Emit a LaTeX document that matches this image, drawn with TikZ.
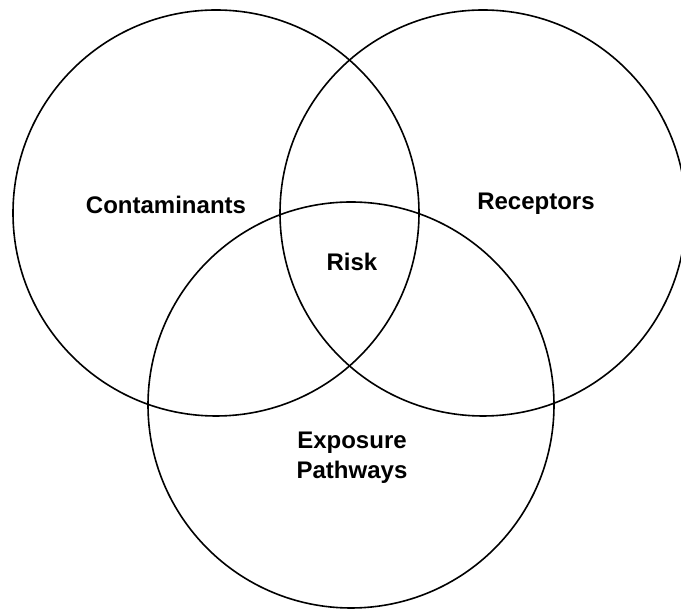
\documentclass[tikz,border=0pt]{standalone}
\usepackage{fontspec}
\setmainfont{Liberation Sans}
\usepackage{tikz}
\usetikzlibrary{positioning}

\begin{document}
\begin{tikzpicture}[
    x=1pt, y=1pt,
    setcircle/.style={circle, draw, line width=1.6pt, minimum size=406pt, inner sep=0pt},
    label/.style={align=center, font=\fontsize{24}{30}\selectfont\bfseries},
]
    \useasboundingbox (0,0) rectangle (681,610);
    \clip (0,0) rectangle (681,610);

    % Sets
    \node[setcircle] (contam) at (216,397) {};
    \node[setcircle] (recep) at (483,397) {};
    \node[setcircle] (expo) at (351,205) {};

    % Labels
    \node[label] (contamtext) at (166,405) {Contaminants};
    \node[label] (receptext) at (536,406) {Receptors};
    \node[label] (risk) at (352,348) {Risk};
    \node[label] (expotext) at (352,152) {Exposure\\Pathways};
\end{tikzpicture}
\end{document}
